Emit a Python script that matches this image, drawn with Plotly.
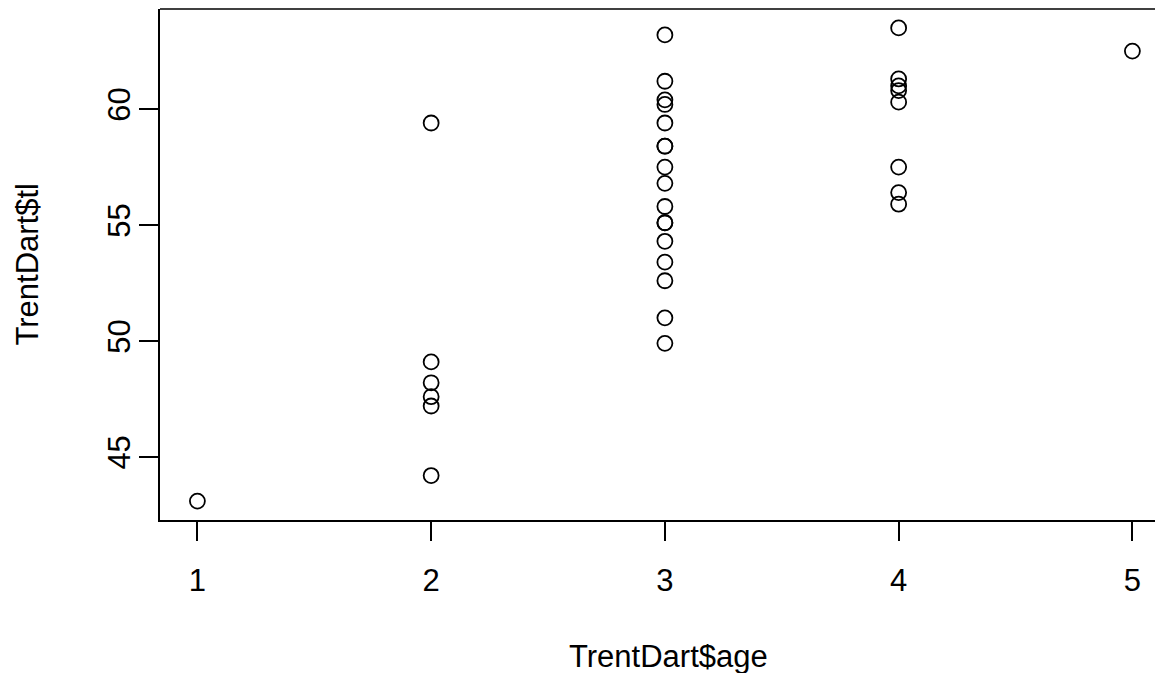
import plotly.graph_objects as go

age1 = [43.1]
age2 = [59.4, 49.1, 48.2, 47.6, 47.2, 44.2]
age3 = [63.2, 61.2, 60.4, 60.2, 59.4, 58.4, 58.4, 57.5, 56.8, 55.8, 55.1, 55.1,
        54.3, 53.4, 52.6, 51.0, 49.9]
age4 = [63.5, 61.3, 61.0, 60.8, 60.3, 57.5, 56.4, 55.9]
age5 = [62.5]

ages = []
tl = []
for a, vals in zip([1, 2, 3, 4, 5], [age1, age2, age3, age4, age5]):
    ages += [a] * len(vals)
    tl += vals

x_ticks = [1, 2, 3, 4, 5]
y_ticks = [45, 50, 55, 60]

xmin, xmax = min(ages), max(ages)
ymin, ymax = min(tl), max(tl)
xpad = 0.04 * (xmax - xmin)
ypad = 0.04 * (ymax - ymin)

fig = go.Figure()
fig.add_trace(go.Scatter(
    x=ages, y=tl, mode="markers",
    marker=dict(symbol="circle-open", size=15, color="black",
                line=dict(color="black", width=1.8)),
    showlegend=False, hoverinfo="x+y",
))

font = dict(family="Liberation Sans, Arial, sans-serif", size=31, color="black")

# page body adds ~7px offset; compensate
W, H = 1156, 665
ml, mr, mt, mb = 152, 0, 1, 153
pw = W - ml - mr
ph = H - mt - mb

# the original plot region runs past the right edge of the picture
x_unit_px = 233.75
x_lo = xmin - xpad
x_hi = x_lo + pw / x_unit_px

fig.update_layout(
    width=W, height=H,
    margin=dict(l=ml, r=mr, t=mt, b=mb),
    paper_bgcolor="white", plot_bgcolor="white",
    font=font,
    xaxis=dict(range=[x_lo, x_hi], tickvals=x_ticks,
               ticktext=[str(v) for v in x_ticks],
               showgrid=False, zeroline=False, showline=True, mirror=False,
               linecolor="black", linewidth=1.5, ticks="outside", ticklen=19,
               tickwidth=1.5, tickcolor="black", tickfont=font,
               ticklabelstandoff=13),
    yaxis=dict(range=[ymin - ypad, ymax + ypad], tickvals=y_ticks,
               ticktext=[str(v) for v in y_ticks],
               showgrid=False, zeroline=False, showline=True, mirror=False,
               linecolor="black", linewidth=1.5, ticks="outside", ticklen=19,
               tickwidth=1.5, tickcolor="black", tickfont=font, tickangle=-90,
               ticklabelstandoff=-3),
    shapes=[dict(type="line", xref="paper", yref="paper", x0=0, x1=1, y0=1, y1=1,
                 line=dict(color="black", width=1.5))],
    annotations=[
        dict(text="TrentDart$age", xref="paper", yref="paper", x=(667 - 159) / pw,
             y=-136 / ph, xanchor="center", yanchor="middle", showarrow=False,
             font=font),
        dict(text="TrentDart$tl", xref="paper", yref="paper", x=-133 / pw,
             y=0.5, xanchor="center", yanchor="middle", showarrow=False,
             textangle=-90, font=font),
    ],
)

fig.write_html("out.html")
